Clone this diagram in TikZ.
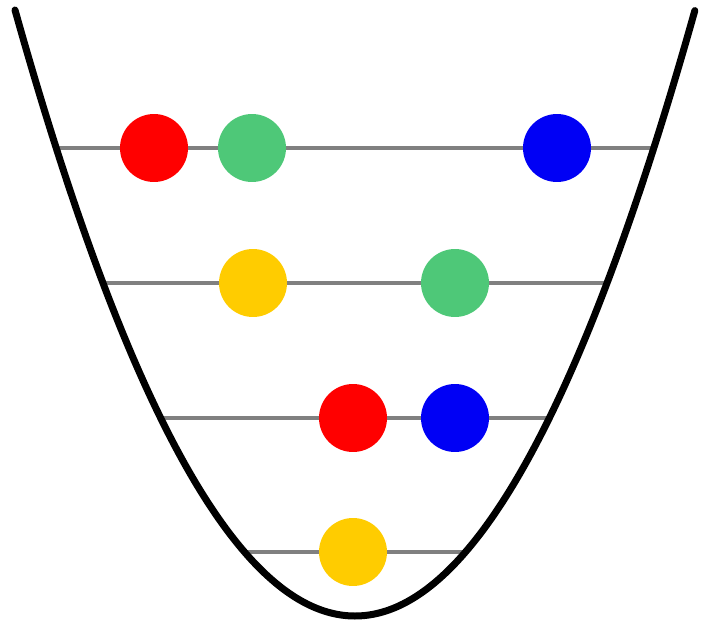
\documentclass[tikz,border=0pt]{standalone}
\definecolor{dred}{RGB}{255,0,0}
\definecolor{dgreen}{RGB}{78,200,120}
\definecolor{dblue}{RGB}{0,0,245}
\definecolor{dyellow}{RGB}{255,204,0}
\definecolor{lgray}{RGB}{128,128,128}
\begin{document}
\begin{tikzpicture}[x=0.02cm,y=-0.02cm,
  dot/.style={circle,inner sep=0pt,minimum size=1.36cm,fill=#1},
  level/.style={draw=lgray,line width=0.09cm},
  well/.style={draw=black,line width=0.14cm,line cap=round}]
\useasboundingbox (0,0) rectangle (701,626);
% level end points
\coordinate (l1a) at (56,148);  \coordinate (l1b) at (654,148);
\coordinate (l2a) at (103,283); \coordinate (l2b) at (607,283);
\coordinate (l3a) at (161,418); \coordinate (l3b) at (549,418);
\coordinate (l4a) at (245,552); \coordinate (l4b) at (465,552);
\draw[level] (l1a) -- (l1b);
\draw[level] (l2a) -- (l2b);
\draw[level] (l3a) -- (l3b);
\draw[level] (l4a) -- (l4b);
% parabola
\draw[well] plot[domain=-1:1,samples=121,smooth,variable=\t] ({355+340*\t},{616-606*\t*\t});
% dots
\node[dot=dred]    (r1) at (154,148) {};
\node[dot=dgreen]  (g1) at (252,148) {};
\node[dot=dblue]   (b1) at (557,148) {};
\node[dot=dyellow] (y2) at (253,283) {};
\node[dot=dgreen]  (g2) at (455,283) {};
\node[dot=dred]    (r3) at (353,418) {};
\node[dot=dblue]   (b3) at (455,418) {};
\node[dot=dyellow] (y4) at (353,552) {};
\end{tikzpicture}
\end{document}
